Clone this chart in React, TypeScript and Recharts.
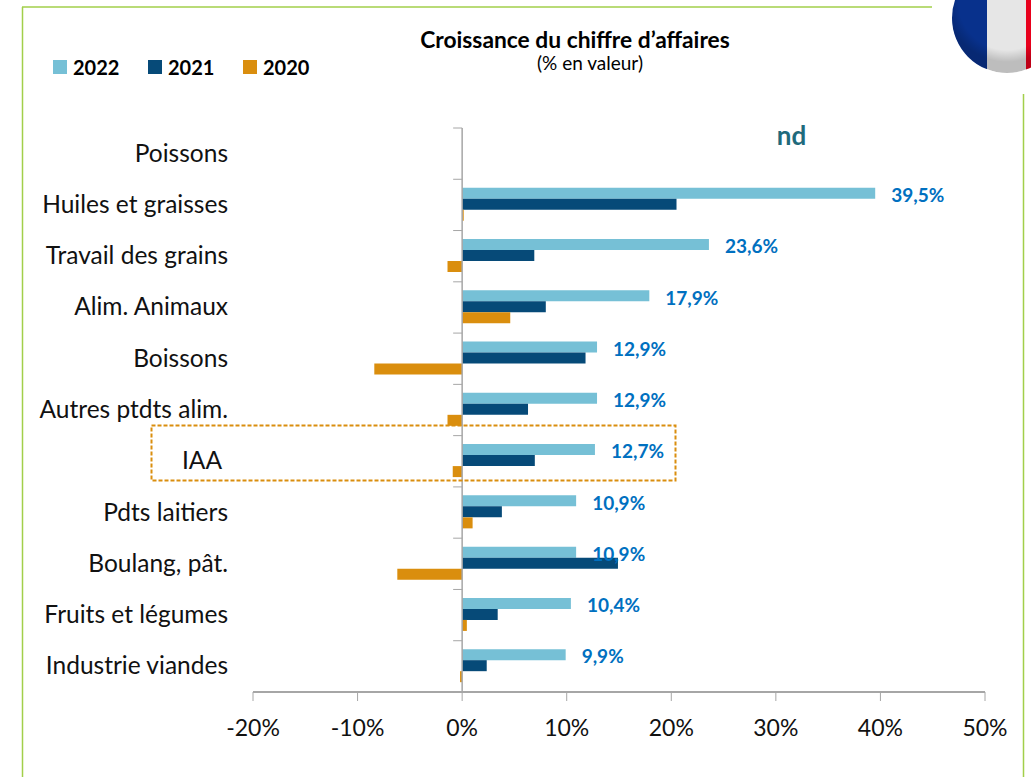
import { BarChart, Bar, XAxis, YAxis, ReferenceLine, ReferenceDot, LabelList, Legend } from "recharts";

const categories = [
  "Poissons",
  "Huiles et graisses",
  "Travail des grains",
  "Alim. Animaux",
  "Boissons",
  "Autres ptdts alim.",
  "IAA",
  "Pdts laitiers",
  "Boulang, pât.",
  "Fruits et légumes",
  "Industrie viandes",
];
const values2022 = [null, 39.5, 23.6, 17.9, 12.9, 12.9, 12.7, 10.9, 10.9, 10.4, 9.9];
const values2021 = [null, 20.5, 6.9, 8.0, 11.8, 6.3, 6.95, 3.8, 14.9, 3.4, 2.35];
const values2020 = [null, 0.15, -1.4, 4.6, -8.4, -1.4, -0.9, 1.0, -6.2, 0.45, -0.2];
const xTicks = [-20, -10, 0, 10, 20, 30, 40, 50];

const chartData = categories.map((name, i) => ({
  name,
  v2022: values2022[i],
  v2021: values2021[i],
  v2020: values2020[i],
}));

const WIDTH = 1031;
const HEIGHT = 777;
const margin = { top: 128, right: 46, bottom: 25, left: 0 };
const yAxisWidth = 253;
const xAxisHeight = 60;
const plotW = WIDTH - margin.right - yAxisWidth;
const plotH = HEIGHT - margin.top - margin.bottom - xAxisHeight;
const bandH = plotH / categories.length;
const zeroX = yAxisWidth + (plotW * 20) / 70;

const LIGHT = "#76C0D6";
const NAVY = "#064A78";
const ORANGE = "#DA8E0E";
const GREY = "#A6A6A6";
const GREEN = "#A2CF4A";
const FONT = "Lato, sans-serif";

function CategoryTick({ y, payload, index }: any) {
  const isLast = index === categories.length - 1;
  // the IAA label sits a little further in than the others
  const labelX = payload.value === "IAA" ? 222 : 228;
  return (
    <g>
      <text x={labelX} y={y} dy={8} textAnchor="end" fontSize={24.5} fontFamily={FONT} fill="#111">
        {payload.value}
      </text>
      <line x1={zeroX - 9} x2={zeroX} y1={y - bandH / 2} y2={y - bandH / 2} stroke={GREY} />
      {isLast && <line x1={zeroX - 9} x2={zeroX} y1={y + bandH / 2} y2={y + bandH / 2} stroke={GREY} />}
    </g>
  );
}

function LegendContent({ payload }: any) {
  return (
    <div style={{ display: "flex", fontFamily: FONT, fontWeight: 700, fontSize: 20, color: "#000" }}>
      {(payload ?? []).map((p: any) => (
        <div key={p.value} style={{ display: "flex", alignItems: "center", width: 95, height: 14 }}>
          <span style={{ width: 14, height: 14, background: p.color, marginRight: 6, flex: "none" }} />
          {p.value}
        </div>
      ))}
    </div>
  );
}

function NdLabel({ viewBox }: any) {
  return (
    <text x={viewBox.x} y={viewBox.y} dy={-9} textAnchor="middle" fontFamily={FONT} fontWeight={700} fontSize={26} fill="#1F6A7C">
      nd
    </text>
  );
}

function Flag() {
  return (
    <svg width={WIDTH} height={HEIGHT} style={{ position: "absolute", left: 0, top: 0, pointerEvents: "none" }}>
      <defs>
        <clipPath id="flagClip">
          <circle cx={1007} cy={18} r={55} />
        </clipPath>
        <radialGradient id="flagShade" cx="50%" cy="35%" r="55%">
          <stop offset="80%" stopColor="#000" stopOpacity={0} />
          <stop offset="100%" stopColor="#000" stopOpacity={0.18} />
        </radialGradient>
      </defs>
      <line x1={22} x2={932} y1={7} y2={7} stroke={GREEN} strokeWidth={1.5} />
      <line x1={22.5} x2={22.5} y1={7} y2={HEIGHT} stroke={GREEN} strokeWidth={1.5} />
      <line x1={1023.5} x2={1023.5} y1={94} y2={HEIGHT} stroke={GREEN} strokeWidth={1.5} />
      <rect x={151.5} y={425.5} width={524} height={55} fill="none" stroke={ORANGE} strokeWidth={2} strokeDasharray="4 2" />
      <g clipPath="url(#flagClip)">
        <rect x={950} y={-40} width={37} height={115} fill="#08318C" />
        <rect x={987} y={-40} width={39} height={115} fill="#E6E6E6" />
        <rect x={1026} y={-40} width={40} height={115} fill="#E8001C" />
        <circle cx={1007} cy={18} r={55} fill="url(#flagShade)" />
      </g>
    </svg>
  );
}

export default function App() {
  return (
    <div style={{ position: "absolute", left: 0, top: 0, width: WIDTH, height: HEIGHT, overflow: "hidden", background: "#fff" }}>
      <BarChart
        width={WIDTH}
        height={HEIGHT}
        layout="vertical"
        data={chartData}
        margin={margin}
        barCategoryGap="16.5%"
        barGap={0}
      >
        <XAxis
          type="number"
          domain={[-20, 50]}
          ticks={xTicks}
          height={xAxisHeight}
          tickFormatter={(v: number) => `${v}%`}
          tick={{ fontSize: 23, fontFamily: FONT, fill: "#111" }}
          tickSize={9}
          tickMargin={19}
          stroke={GREY}
          axisLine={{ stroke: GREY, strokeWidth: 2 }}
          tickLine={{ stroke: GREY }}
        />
        <YAxis
          type="category"
          dataKey="name"
          width={yAxisWidth}
          axisLine={false}
          tickLine={false}
          interval={0}
          tick={CategoryTick}
        />
        <Legend
          layout="horizontal"
          verticalAlign="middle"
          align="center"
          itemSorter={(item: any) => -Number(item.value)}
          content={LegendContent}
          wrapperStyle={{ left: 53, top: 60, width: 300 }}
        />
        <Bar dataKey="v2022" name="2022" fill={LIGHT} isAnimationActive={false}>
          <LabelList
            dataKey="v2022"
            position="right"
            offset={16}
            dy={2}
            fill="#0070C0"
            fontFamily={FONT}
            fontWeight={700}
            fontSize={19}
            formatter={(v: any) => (v == null ? "" : `${String(v).replace(".", ",")}%`)}
          />
        </Bar>
        <Bar dataKey="v2021" name="2021" fill={NAVY} isAnimationActive={false} />
        <Bar dataKey="v2020" name="2020" fill={ORANGE} isAnimationActive={false} />
        <ReferenceLine x={0} stroke={GREY} strokeWidth={1.5} />
        <ReferenceDot x={31.5} y="Poissons" r={0} fill="none" stroke="none" label={NdLabel} />
      </BarChart>
      <div style={{ position: "absolute", left: 375, top: 26, width: 400, textAlign: "center", fontFamily: FONT, fontWeight: 700, fontSize: 22.8, lineHeight: "26px", color: "#000" }}>
        Croissance du chiffre d’affaires
      </div>
      <div style={{ position: "absolute", left: 440, top: 53, width: 300, textAlign: "center", fontFamily: FONT, fontSize: 19, lineHeight: "20px", color: "#000" }}>
        (% en valeur)
      </div>
      <Flag />
    </div>
  );
}
